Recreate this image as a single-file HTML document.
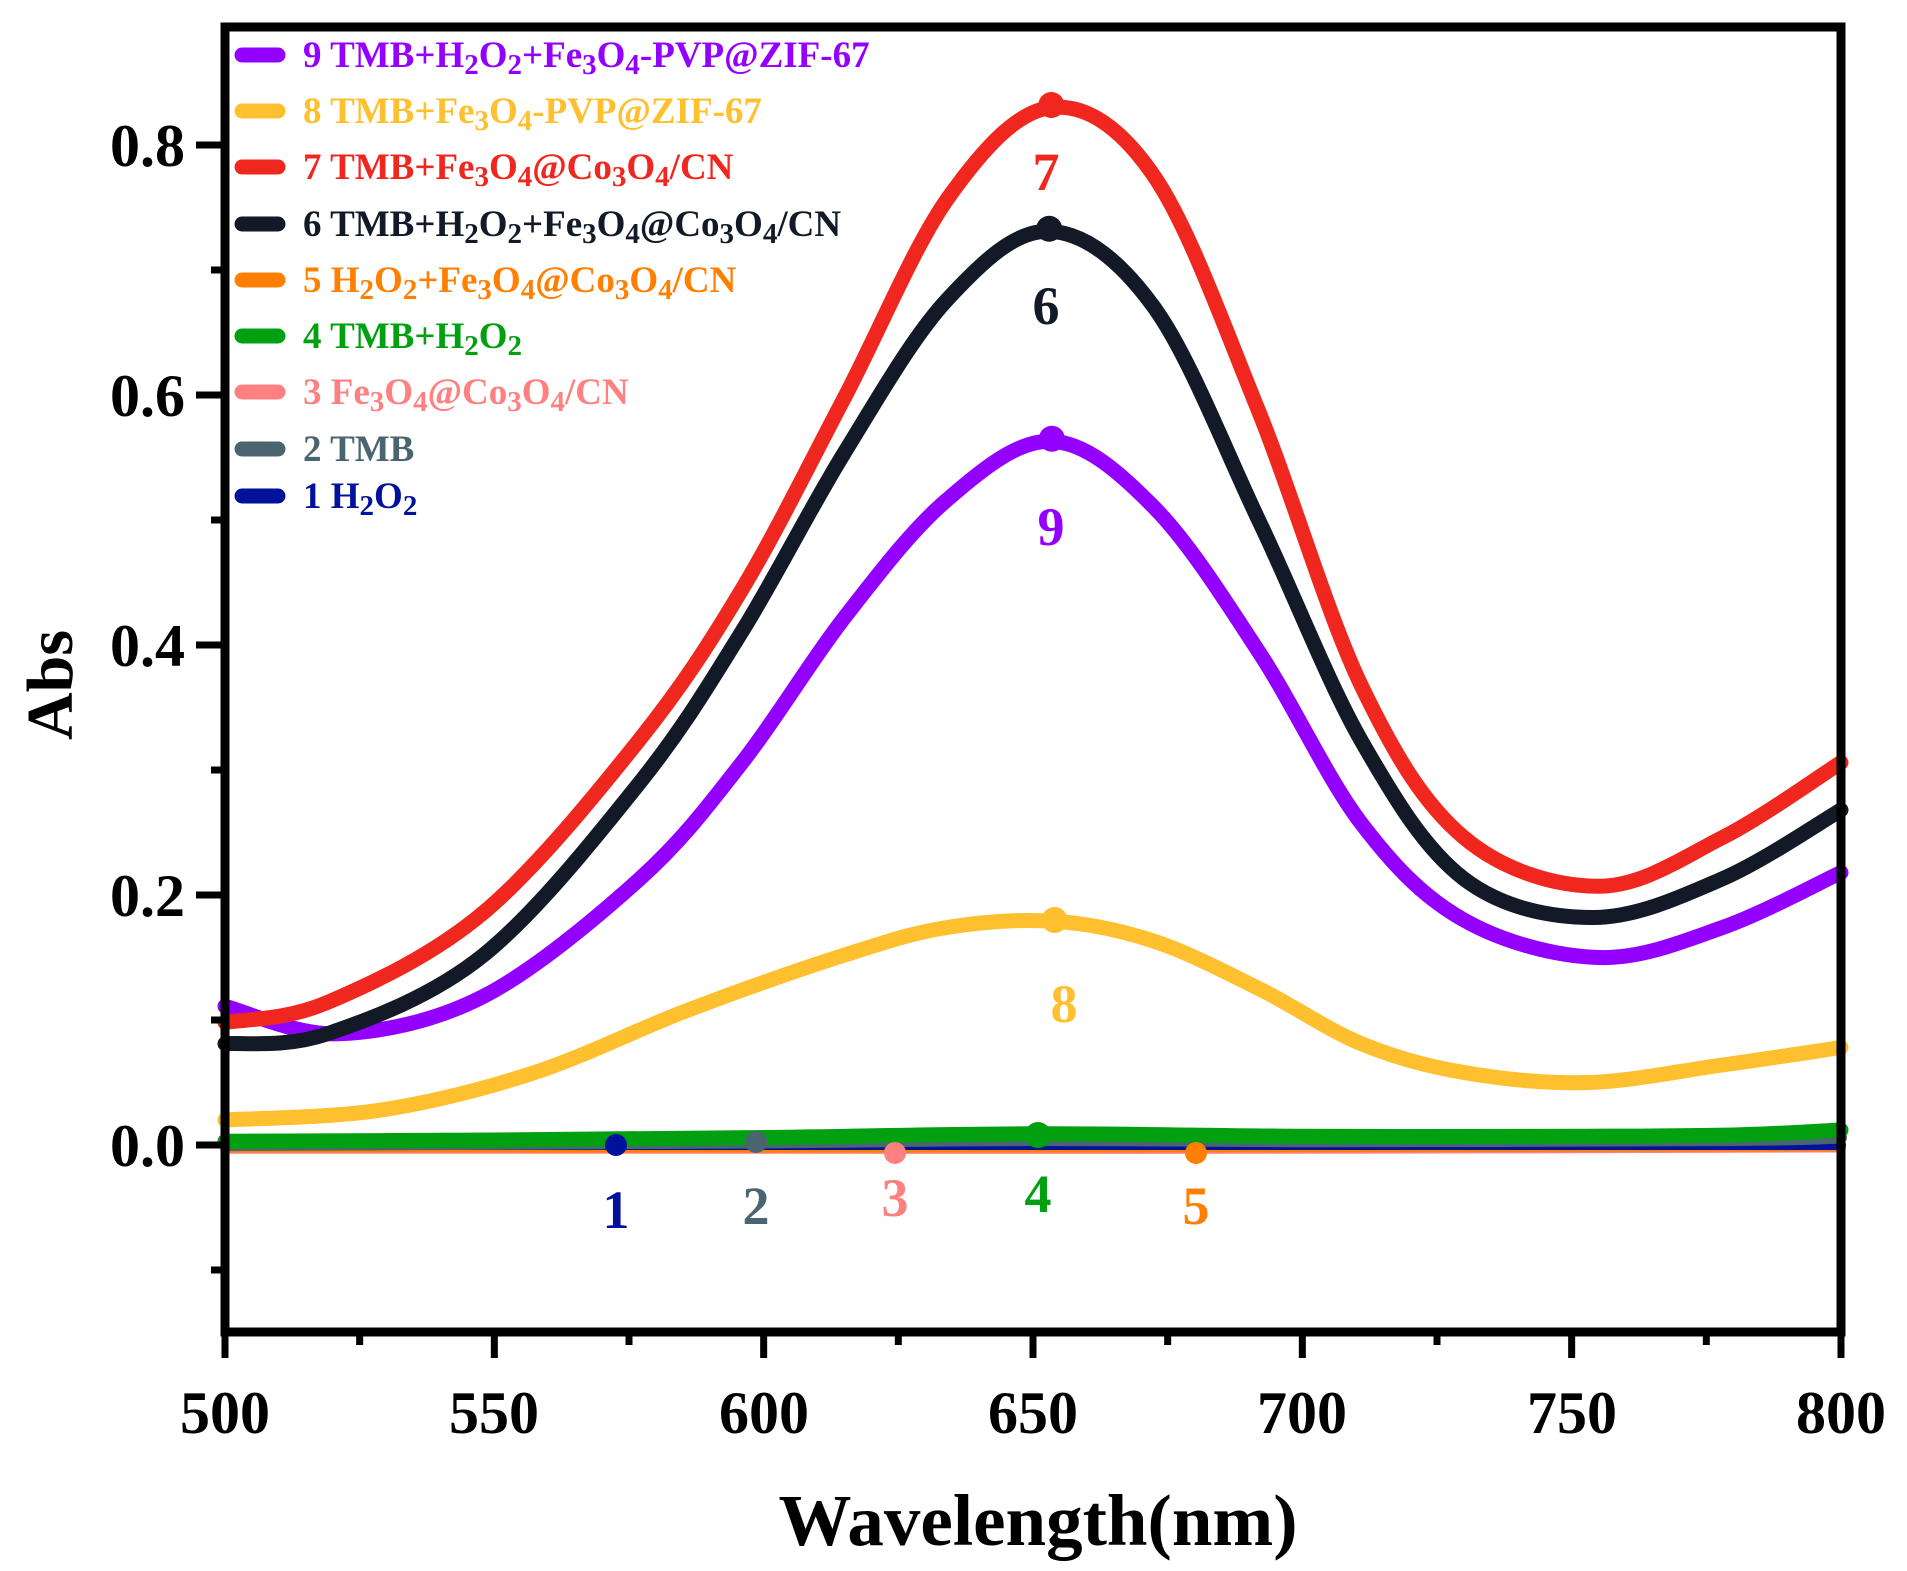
<!DOCTYPE html>
<html><head><meta charset="utf-8">
<style>
html,body{margin:0;padding:0;background:#fff;}
svg{display:block;}
text{font-family:"Liberation Serif","Times New Roman",serif;font-weight:bold;}
</style></head>
<body>
<svg id="s" width="1907" height="1571" viewBox="0 0 1907 1571" xmlns="http://www.w3.org/2000/svg">
<g id="curves" fill="none" stroke-linecap="round" stroke-linejoin="round"></g>
<g id="marks"></g>
<g stroke="#000" stroke-width="9" fill="none">
<rect x="225" y="27" width="1616" height="1305"/>
</g>
<g id="ticks" stroke="#000" stroke-width="7"></g>
<g font-size="60" text-anchor="end" fill="#000">
<text x="185" y="1166">0.0</text>
<text x="185" y="916">0.2</text>
<text x="185" y="666">0.4</text>
<text x="185" y="416">0.6</text>
<text x="185" y="166">0.8</text>
</g>
<g font-size="60" text-anchor="middle" fill="#000">
<text x="225" y="1433">500</text>
<text x="494" y="1433">550</text>
<text x="764" y="1433">600</text>
<text x="1033" y="1433">650</text>
<text x="1302" y="1433">700</text>
<text x="1572" y="1433">750</text>
<text x="1841" y="1433">800</text>
</g>
<text x="1038" y="1545" font-size="73" text-anchor="middle">Wavelength(nm)</text>
<text transform="translate(72,685) rotate(-90)" font-size="66" text-anchor="middle">Abs</text>
<g font-size="54" text-anchor="middle">
<text x="1046" y="190" fill="#f0271f">7</text>
<text x="1046" y="324" fill="#111a26">6</text>
<text x="1051" y="545" fill="#9400ff">9</text>
<text x="1064" y="1022" fill="#fec02f">8</text>
<text x="616" y="1228" fill="#00119c">1</text>
<text x="756" y="1224" fill="#4a6470">2</text>
<text x="895" y="1216" fill="#ff8080">3</text>
<text x="1038" y="1212" fill="#00a010">4</text>
<text x="1196" y="1224" fill="#ff8000">5</text>
</g>
<g id="legend" font-size="37"></g>
</svg>
<script>
var X=function(x){return 225+(x-500)*1616/300;};
var Y=function(v){return 1145-v*1250;};
function path(pts){
  var p=pts.map(function(a){return [X(a[0]),Y(a[1])];});
  var d="M"+p[0][0].toFixed(1)+","+p[0][1].toFixed(1);
  for(var i=0;i<p.length-1;i++){
    var p0=p[i-1]||p[i],p1=p[i],p2=p[i+1],p3=p[i+2]||p[i+1];
    var c1=[p1[0]+(p2[0]-p0[0])/6,p1[1]+(p2[1]-p0[1])/6];
    var c2=[p2[0]-(p3[0]-p1[0])/6,p2[1]-(p3[1]-p1[1])/6];
    d+="C"+c1[0].toFixed(1)+","+c1[1].toFixed(1)+" "+c2[0].toFixed(1)+","+c2[1].toFixed(1)+" "+p2[0].toFixed(1)+","+p2[1].toFixed(1);
  }
  return d;
}
var series=[
 ["#ff8080",[[500,-0.003],[600,-0.003],[700,-0.003],[800,-0.002]],10],
 ["#ff8000",[[500,-0.002],[650,-0.002],[800,-0.001]],10],
 ["#00119c",[[500,0.0],[650,0.0],[800,0.0]],10],
 ["#4a6470",[[500,0.0],[600,0.002],[650,0.004],[700,0.003],[780,0.004],[800,0.006]],12],
 ["#00a010",[[500,0.003],[550,0.004],[600,0.006],[650,0.009],[700,0.007],[750,0.007],[780,0.008],[800,0.012]],15],
 ["#fec02f",[[500,0.020],[529,0.028],[557.5,0.058],[586,0.108],[615,0.152],[634,0.174],[654,0.179],[672.5,0.163],[692,0.125],[711,0.081],[730,0.058],[753,0.050],[778,0.064],[800,0.078]],15],
 ["#9400ff",[[500,0.111],[521,0.089],[548,0.119],[577,0.213],[596,0.306],[615,0.422],[634,0.516],[653.4,0.563],[672.5,0.510],[692,0.394],[711,0.257],[730,0.180],[755,0.150],[778,0.174],[800,0.218]],15],
 ["#111a26",[[500,0.081],[519,0.089],[548,0.152],[577,0.290],[596,0.411],[615,0.554],[634,0.676],[653,0.731],[672.5,0.670],[692,0.499],[711,0.323],[730,0.213],[754,0.182],[778,0.213],[800,0.268]],15],
 ["#f0271f",[[500,0.098],[519,0.114],[548,0.186],[576.7,0.323],[595.9,0.444],[615,0.598],[634.3,0.758],[653.4,0.830],[672.5,0.775],[691.8,0.588],[711,0.367],[730,0.246],[755,0.207],[778,0.246],[800,0.306]],15]
];
var ns="http://www.w3.org/2000/svg";
var cg=document.getElementById("curves");
series.forEach(function(s){
 var e=document.createElementNS(ns,"path");
 e.setAttribute("d",path(s[1]));e.setAttribute("stroke",s[0]);e.setAttribute("stroke-width",s[2]);
 cg.appendChild(e);
});
var mg=document.getElementById("marks");
[[616,1145,"#00119c",11],[756,1142,"#4a6470",11],[895,1153,"#ff8080",11],[1196,1153,"#ff8000",11],[1038,1135,"#00a010",13],
 [X(653.4),Y(0.832),"#f0271f",13],[X(653),Y(0.733),"#111a26",13],[X(653.5),Y(0.565),"#9400ff",13],[X(654),Y(0.180),"#fec02f",13]].forEach(function(m){
 var c=document.createElementNS(ns,"circle");
 c.setAttribute("cx",m[0]);c.setAttribute("cy",m[1]);c.setAttribute("r",m[3]);c.setAttribute("fill",m[2]);mg.appendChild(c);
});
var tg=document.getElementById("ticks");
function line(x1,y1,x2,y2){var l=document.createElementNS(ns,"line");l.setAttribute("x1",x1);l.setAttribute("y1",y1);l.setAttribute("x2",x2);l.setAttribute("y2",y2);tg.appendChild(l);}
for(var v=-0.1;v<0.85;v+=0.1){var y=Y(v);var major=Math.abs(Math.round(v*10)%2)==0;line(major?196:211,y,225,y);}
for(var x=500;x<=800;x+=25){var xx=X(x);var major=(x%50==0);line(xx,1332,xx,major?1358:1345);}
var lg=document.getElementById("legend");
function sb(n){return '<tspan baseline-shift="-25%" font-size="29">'+n+'</tspan>';}
var items=[
 ["#9400ff",'9 TMB+H'+sb(2)+'O'+sb(2)+'+Fe'+sb(3)+'O'+sb(4)+'-PVP@ZIF-67'],
 ["#fec02f",'8 TMB+Fe'+sb(3)+'O'+sb(4)+'-PVP@ZIF-67'],
 ["#f0271f",'7 TMB+Fe'+sb(3)+'O'+sb(4)+'@Co'+sb(3)+'O'+sb(4)+'/CN'],
 ["#111a26",'6 TMB+H'+sb(2)+'O'+sb(2)+'+Fe'+sb(3)+'O'+sb(4)+'@Co'+sb(3)+'O'+sb(4)+'/CN'],
 ["#ff8000",'5 H'+sb(2)+'O'+sb(2)+'+Fe'+sb(3)+'O'+sb(4)+'@Co'+sb(3)+'O'+sb(4)+'/CN'],
 ["#00a010",'4 TMB+H'+sb(2)+'O'+sb(2)],
 ["#ff8080",'3 Fe'+sb(3)+'O'+sb(4)+'@Co'+sb(3)+'O'+sb(4)+'/CN'],
 ["#4a6470",'2 TMB'],
 ["#00119c",'1 H'+sb(2)+'O'+sb(2)]
];
var ys=[55,111,167,224,280,336,392,449,496];
var html="";
items.forEach(function(it,i){
 html+='<line x1="242" y1="'+ys[i]+'" x2="278" y2="'+ys[i]+'" stroke="'+it[0]+'" stroke-width="15" stroke-linecap="round"/>';
 html+='<text x="303" y="'+(ys[i]+12)+'" fill="'+it[0]+'">'+it[1]+'</text>';
});
lg.innerHTML=html;
</script>
</body></html>
